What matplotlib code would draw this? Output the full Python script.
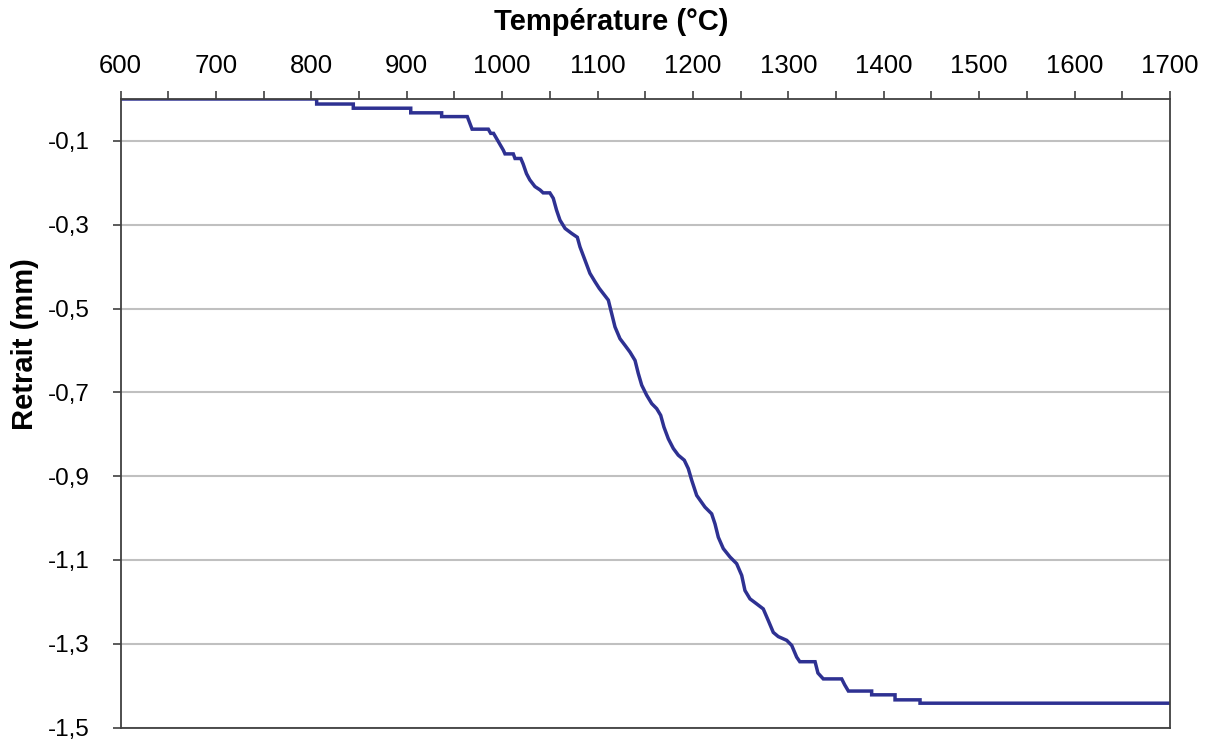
import matplotlib
matplotlib.use("Agg")
import matplotlib.pyplot as plt
from matplotlib.ticker import MultipleLocator, FixedLocator, FuncFormatter

# vertices of the shrinkage curve
temperature = [600, 805.6, 805.6, 844, 844, 904.2, 904.2, 936.6, 936.6, 963.5,
               968.5, 985.5, 988, 991, 1001.2, 1003, 1011.7, 1013.5, 1019.6, 1022,
               1025.5, 1029, 1034.4, 1039.7, 1043, 1050, 1053.6, 1057, 1060.6, 1066,
               1073, 1078.8, 1081.6, 1086.9, 1092, 1097.3, 1101.8, 1111.3, 1114.8, 1118.3,
               1123.5, 1128.8, 1134, 1139.3, 1142.7, 1146.3, 1151.5, 1156.8, 1162, 1166.2,
               1169.6, 1174.2, 1179.4, 1184.6, 1190.9, 1195.1, 1198.7, 1203.9, 1212.6, 1219.6,
               1223.1, 1226.6, 1231.8, 1238.8, 1245.8, 1251.1, 1254.5, 1259.8, 1266.8, 1273.7,
               1279, 1284.2, 1289.4, 1298.3, 1303.5, 1308.7, 1312, 1328, 1331, 1336.6,
               1355.9, 1359, 1362.9, 1387.3, 1387.3, 1411.8, 1411.8, 1438, 1438, 1700]

retrait = [0, 0, -0.012, -0.012, -0.022, -0.022, -0.033, -0.033, -0.042, -0.042,
           -0.072, -0.072, -0.082, -0.082, -0.122, -0.131, -0.131, -0.142, -0.142, -0.155,
           -0.178, -0.193, -0.209, -0.217, -0.224, -0.224, -0.237, -0.265, -0.289, -0.309,
           -0.321, -0.330, -0.353, -0.385, -0.416, -0.436, -0.452, -0.480, -0.512, -0.544,
           -0.572, -0.588, -0.604, -0.624, -0.655, -0.683, -0.707, -0.727, -0.739, -0.755,
           -0.783, -0.811, -0.834, -0.850, -0.862, -0.882, -0.910, -0.946, -0.974, -0.990,
           -1.014, -1.046, -1.073, -1.093, -1.109, -1.137, -1.173, -1.193, -1.205, -1.217,
           -1.245, -1.273, -1.283, -1.292, -1.304, -1.332, -1.343, -1.343, -1.370, -1.384,
           -1.384, -1.398, -1.413, -1.413, -1.422, -1.422, -1.434, -1.434, -1.442, -1.442]

y_ticks = [-0.1, -0.3, -0.5, -0.7, -0.9, -1.1, -1.3, -1.5]

plt.rcParams["font.family"] = ["Liberation Sans", "DejaVu Sans"]

fig = plt.figure(figsize=(12.1, 7.4), dpi=100)
ax = fig.add_axes([120.5 / 1210, 1 - 727.5 / 740, (1170 - 120.5) / 1210, (727.5 - 99) / 740])

ax.plot(temperature, retrait, color="#2e3192", lw=2.5, solid_joinstyle="miter")

ax.set_xlim(600, 1700)
ax.set_ylim(-1.5, 0)

ax.xaxis.tick_top()
ax.xaxis.set_major_locator(MultipleLocator(100))
ax.xaxis.set_minor_locator(MultipleLocator(50))
ax.yaxis.set_major_locator(FixedLocator(y_ticks))
ax.yaxis.set_major_formatter(FuncFormatter(lambda v, p: ("%.1f" % v).replace(".", ",")))

ax.tick_params(axis="x", which="both", direction="out", length=6, width=1.2,
               color="#404040", labelsize=18.5, pad=9)
ax.tick_params(axis="y", direction="out", length=6, width=1.2, color="#404040",
               labelsize=17.5, pad=16)

ax.grid(axis="y", color="#c0c0c0", lw=1.5)
for s in ax.spines.values():
    s.set_color("#404040")
    s.set_linewidth(1.3)

fig.text(611 / 1210, 1 - 22 / 740, "Température (°C)", ha="center", va="center",
         fontsize=21, fontweight="bold")
fig.text(25 / 1210, 1 - 344 / 740, "Retrait (mm)", ha="center", va="center",
         rotation=90, fontsize=21, fontweight="bold")

fig.savefig("out.png", dpi=100)
